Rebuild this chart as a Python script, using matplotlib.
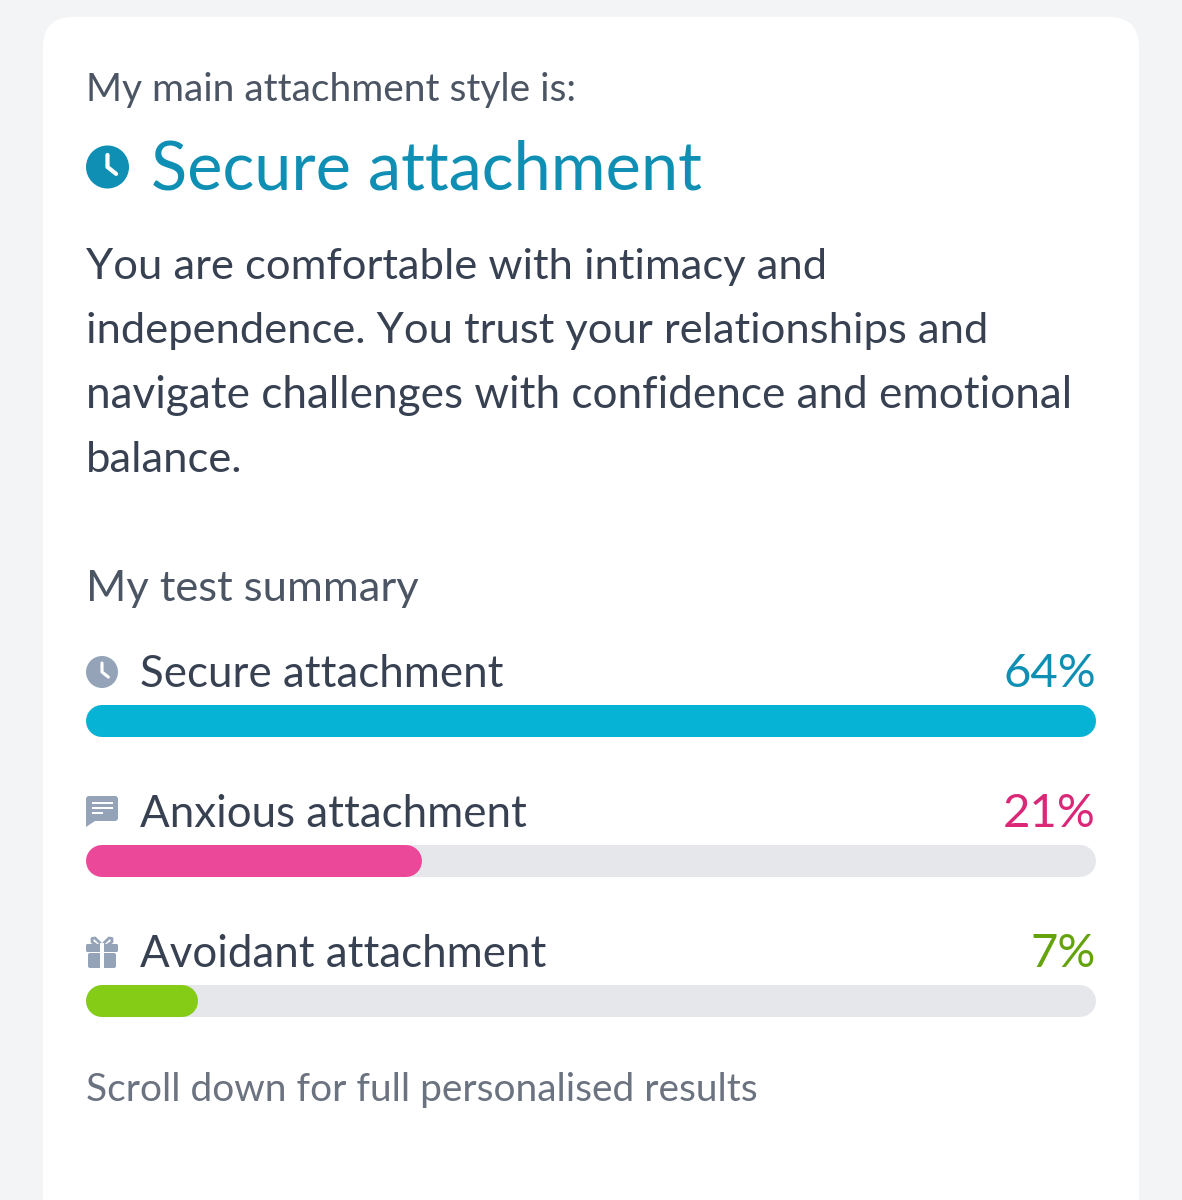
import matplotlib
matplotlib.use("Agg")
import matplotlib.pyplot as plt
from matplotlib.patches import Circle, FancyBboxPatch, Polygon, Rectangle

# chart data
categories = ["Secure attachment", "Anxious attachment", "Avoidant attachment"]
percent_labels = ["64%", "21%", "7%"]
fill_share = [100, 33.3, 11.1]  # bar length as shown, % of the track
fill_colors = ["#06b3d4", "#ec4899", "#84cc16"]
label_colors = ["#0e8fb3", "#db2777", "#65a30d"]
description = ["You are comfortable with intimacy and",
               "independence. You trust your relationships and",
               "navigate challenges with confidence and emotional",
               "balance."]
description_sizes = [31.3, 31.3, 31.8, 31.3]

plt.rcParams['font.family'] = ['Lato', 'DejaVu Sans']

fig = plt.figure(figsize=(11.82, 12), dpi=100, facecolor="#f3f4f6")
ax = fig.add_axes([0, 0, 1, 1])
ax.set_xlim(0, 1182)
ax.set_ylim(1200, 0)
ax.axis("off")

LEFT, RIGHT = 86, 1096
ICON = "#94a3b8"


def pill(x0, x1, y0, y1, color, zorder=2):
    # round caps give a true half circle, the fancy box corners come out too square
    h = y1 - y0
    ax.plot([x0 + h / 2, x1 - h / 2], [y0 + h / 2] * 2, color=color, lw=h * 0.72,
            solid_capstyle="round", zorder=zorder)


def clock(cx, cy, r, color):
    ax.add_patch(Circle((cx, cy), r, fc=color, ec="none", zorder=3))
    ax.plot([cx, cx, cx + r * 0.4], [cy - r * 0.56, cy, cy + r * 0.32],
            color="white", lw=r * 0.14, solid_capstyle="round", solid_joinstyle="round", zorder=4)


def chat(x0, y0, color):
    ax.add_patch(FancyBboxPatch((x0 + 2, y0 + 2), 28, 21, boxstyle="round,pad=2,rounding_size=3",
                                fc=color, ec="none", zorder=3))
    ax.add_patch(Polygon([[x0, y0 + 22], [x0, y0 + 31], [x0 + 9, y0 + 25]], fc=color, ec="none", zorder=3))
    for i, w in enumerate([21, 21, 11]):
        ax.add_patch(Rectangle((x0 + 6, y0 + 6 + i * 5), w, 2.2, fc="white", ec="none", zorder=4))


def gift(x0, y0, color):
    ax.add_patch(FancyBboxPatch((x0, y0 + 7), 32, 8, boxstyle="round,pad=0,rounding_size=1.5",
                                fc=color, ec="none", zorder=3))
    ax.add_patch(FancyBboxPatch((x0 + 2, y0 + 16), 28, 15, boxstyle="round,pad=0,rounding_size=2",
                                fc=color, ec="none", zorder=3))
    ax.add_patch(Rectangle((x0 + 14, y0 + 6), 4, 26, fc="white", ec="none", zorder=4))
    # bow loops
    for s in [-1, 1]:
        cx = x0 + 16
        ax.plot([cx + s * 1, cx + s * 7, cx + s * 10, cx + s * 10, cx + s * 7],
                [y0 + 7, y0 + 1, y0 + 1.5, y0 + 5, y0 + 7],
                color=color, lw=2, solid_joinstyle="round", zorder=3)


# card
ax.add_patch(FancyBboxPatch((73, 47), 1036, 1300, boxstyle="round,pad=30,rounding_size=30",
                            fc="white", ec="none", zorder=1))

ax.text(86, 101, "My main attachment style is:", fontsize=28, color="#4b5563")
clock(107.5, 167, 21.5, "#0e8fb3")
ax.text(151, 190, "Secure attachment", fontsize=48, color="#0e8fb3")
for i, line in enumerate(description):
    ax.text(86, 279 + i * 64.5, line, fontsize=description_sizes[i], color="#374151")
ax.text(86, 601, "My test summary", fontsize=31.3, color="#4b5563")

for i, name in enumerate(categories):
    base = 687 + i * 140
    ax.text(140, base, name, fontsize=31.6, color="#374151")
    ax.text(1096, base, percent_labels[i], fontsize=34, color=label_colors[i], ha="right")
    top = 705 + i * 140
    pill(LEFT, RIGHT, top, top + 32, "#e5e7eb", zorder=2)
    pill(LEFT, LEFT + (RIGHT - LEFT) * fill_share[i] / 100, top, top + 32, fill_colors[i], zorder=3)

clock(102, 672, 16, ICON)
chat(86, 796, ICON)
gift(86, 937, ICON)

ax.text(86, 1101, "Scroll down for full personalised results", fontsize=28, color="#6b7280")

fig.savefig("out.png", dpi=100, facecolor=fig.get_facecolor())
